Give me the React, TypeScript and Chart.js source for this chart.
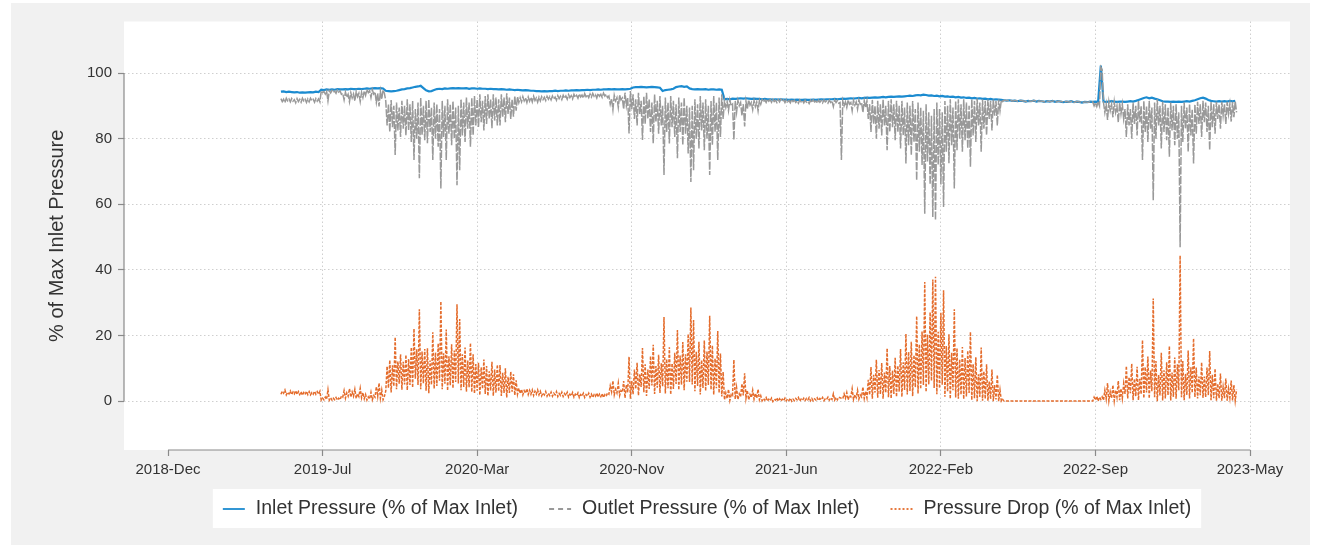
import React, { useEffect, useRef } from 'react';
import { Chart, registerables } from 'chart.js';

Chart.register(...registerables);

// Axis labels: evenly spaced every 230 days, counted from 2018-12-01
const X_LABELS = ['2018-Dec', '2019-Jul', '2020-Mar', '2020-Nov', '2021-Jun', '2022-Feb', '2022-Sep', '2023-May'];
const X_TICK_STEP_DAYS = 230;
const Y_TICKS = [0, 20, 40, 60, 80, 100];

// Readings are grouped in 4-day windows starting 2019-05-18 (day 168)
const FIRST_DAY = 168;
const STEP_DAYS = 4;

// Inlet pressure per window, % of max inlet (null = no reading)
const INLET: (number | null)[] = [
  94.3, 94.4, 94.2, 94.3, 94.2, 94.1, 94.2, 94.0, 94.1, 94.0,
  94.1, 94.2, 94.1, 94.3, 94.2, 94.9, 94.8, 95.0, 94.9, 95.0,
  94.9, 95.1, 95.0, 95.0, 95.1, 95.0, 95.2, 95.1, 95.1, 95.2,
  95.1, 95.2, 95.3, 95.2, 95.3, 95.4, 95.3, 95.4, 95.3, 94.6,
  94.5, 94.4, 94.5, 94.6, 94.8, 95.0, 95.1, 95.3, 95.4, 95.6,
  95.8, 95.9, 96.1, 95.4, 94.7, 94.4, 94.5, 94.8, 95.1, 95.2,
  95.1, 95.3, 95.2, 95.3, 95.4, 95.3, 95.4, 95.3, 95.3, 95.4,
  95.2, 95.3, 95.3, 95.2, 95.3, 95.2, 95.2, 95.1, 95.2, 95.1,
  95.1, 95.0, 95.1, 95.0, 94.9, 95.0, 94.9, 94.8, 94.9, 94.8,
  94.7, 94.8, 94.7, 94.6, 94.6, 94.5, 94.5, 94.4, 94.5, 94.4,
  94.5, 94.5, 94.6, 94.5, 94.6, 94.6, 94.7, 94.6, 94.7, 94.7,
  94.8, 94.7, 94.8, 94.8, 94.9, 94.8, 94.9, 94.9, 95.0, 94.9,
  95.0, 95.0, 95.1, 95.0, 95.1, 95.0, 95.0, 95.1, 95.0, 95.1,
  95.2, 95.6, 95.7, 95.7, 95.8, 95.7, 95.6, 95.7, 95.8, 95.7,
  95.6, 95.5, 94.5, 94.8, 94.9, 95.0, 95.2, 95.7, 95.9, 96.0,
  95.8, 95.9, 95.3, 95.1, 95.0, 95.1, 95.0, 95.0, 95.1, 94.9,
  95.0, 95.0, 94.9, 95.0, 94.9, 92.0, 92.1, 92.0, 92.2, 92.1,
  92.2, 92.3, 92.2, 92.3, 92.2, 92.1, 92.2, 92.1, 92.1, 92.0,
  92.1, 92.0, 92.0, 91.9, 92.0, 91.9, 92.0, 91.9, 91.9, 91.8,
  91.9, 91.8, 91.9, 91.8, 91.8, 91.9, 91.8, 91.8, 91.9, 91.8,
  91.9, 92.0, 91.9, 92.0, 92.0, 92.0, 92.1, 92.0, null, 92.2,
  92.1, 92.2, 92.3, 92.2, 92.3, 92.4, 92.3, 92.4, 92.5, 92.4,
  92.5, 92.6, 92.5, 92.6, 92.7, 92.6, 92.7, 92.8, 92.7, 92.8,
  92.9, 92.8, 92.9, 93.0, 93.1, 93.0, 93.2, 93.3, 93.2, 93.4,
  93.3, 93.1, 93.2, 93.0, 93.1, 92.9, 93.0, 92.8, 92.9, 92.7,
  92.8, 92.6, 92.7, 92.5, 92.6, 92.4, 92.5, 92.3, 92.4, 92.2,
  92.3, 92.1, 92.2, 92.0, 92.1, 91.9, 92.0, 91.9, 91.8, 91.7,
  91.6, 91.7, 91.5, 91.6, 91.4, 91.6, 91.5, 91.3, 91.5, 91.4,
  91.6, 91.3, 91.5, 91.4, 91.2, 91.4, 91.3, 91.5, 91.2, 91.4,
  91.3, 91.1, 91.3, 91.2, 91.4, 91.1, 91.3, 91.2, 91.0, 91.2,
  91.1, 91.3, 91.2, 91.3, 91.2, 102.3, 91.3, 91.2, 91.3, 91.4,
  91.3, 91.2, 91.3, 91.3, 91.2, 91.3, 91.4, 91.3, 91.5, 91.8,
  92.1, 92.4, 92.6, 92.3, 92.5, 92.2, 92.0, 91.7, 91.4, 91.3,
  91.3, 91.2, 91.3, 91.2, 91.3, 91.2, 91.3, 91.4, 91.3, 91.5,
  91.7, 92.0, 92.3, 92.5, 92.2, 91.8, 91.5, 91.4, 91.3, 91.4,
  91.3, 91.4, 91.3, 91.5, 91.4, 91.5,
];

// Outlet pressure, upper reading within each window, % of max inlet
const OUTLET_HI = [
  92.2, 92.0, 92.3, 92.1, 92.2, 91.9, 92.2, 92.0, 92.3, 92.0,
  92.1, 92.3, 92.0, 92.2, 92.1, 94.6, 94.4, 94.5, 94.6, 94.7,
  94.5, 94.8, 94.6, 93.8, 94.2, 93.5, 94.0, 93.6, 94.3, 93.8,
  94.1, 94.5, 95.0, 94.6, 94.9, 94.2, 93.8, 94.5, 94.9, 91.5,
  90.5, 91.8, 90.0, 91.0, 89.5, 91.5, 90.0, 92.0, 90.5, 91.5,
  89.0, 91.0, 92.5, 90.0, 91.5, 92.0, 89.5, 91.0, 90.5, 89.0,
  91.5, 90.0, 92.0, 90.5, 91.5, 89.5, 90.0, 92.0, 91.0, 92.5,
  91.0, 92.5, 93.0, 92.0, 93.5, 91.5, 93.0, 93.5, 92.0, 93.5,
  92.5, 92.0, 93.5, 92.5, 93.8, 92.5, 92.0, 93.0, 92.8, 92.5,
  92.8, 92.4, 92.7, 92.5, 92.9, 92.4, 92.6, 92.8, 92.6, 92.9,
  92.8, 93.0, 92.7, 93.1, 92.9, 93.2, 93.0, 93.4, 93.1, 93.5,
  93.2, 93.6, 93.3, 93.7, 93.4, 93.6, 93.8, 93.4, 93.8, 93.5,
  93.9, 93.5, 93.0, 92.2, 93.2, 92.5, 93.3, 92.4, 94.0, 92.5,
  94.5, 93.5, 92.0, 94.0, 91.5, 93.0, 94.0, 92.0, 91.0, 93.5,
  91.5, 93.0, 90.0, 92.5, 91.0, 93.0, 91.5, 90.5, 92.5, 91.0,
  92.5, 90.0, 89.5, 90.0, 92.0, 90.5, 93.0, 91.0, 92.0, 90.0,
  91.5, 93.0, 91.0, 92.5, 93.5, 91.6, 91.3, 91.8, 90.5, 91.5,
  91.7, 91.0, 90.5, 91.4, 91.8, 91.0, 91.6, 91.2, 91.7, 91.9,
  91.8, 92.0, 91.9, 92.0, 91.7, 91.9, 92.0, 91.8, 91.8, 91.6,
  91.9, 91.7, 91.5, 91.8, 91.6, 91.7, 91.4, 91.7, 91.8, 91.5,
  91.7, 91.6, 91.8, 91.5, 91.7, 91.5, 91.8, 91.6, 91.0, 91.5,
  91.2, 91.8, 91.0, 91.7, 91.2, 91.8, 91.0, 91.6, 91.5, 90.5,
  91.8, 90.0, 91.5, 90.5, 92.0, 90.0, 91.5, 92.0, 90.5, 91.5,
  90.0, 91.5, 89.5, 91.0, 90.0, 91.5, 89.0, 91.0, 89.5, 88.5,
  90.5, 88.0, 87.0, 89.0, 91.0, 89.0, 88.0, 91.5, 90.0, 92.0,
  89.5, 91.5, 92.0, 90.5, 92.0, 91.0, 90.0, 92.0, 91.5, 92.2,
  91.0, 92.0, 91.5, 91.9, 91.5, 91.9, 91.5, 91.9, 91.8, 91.7,
  91.6, 91.7, 91.5, 91.6, 91.4, 91.6, 91.5, 91.3, 91.5, 91.4,
  91.6, 91.3, 91.5, 91.4, 91.2, 91.4, 91.3, 91.5, 91.2, 91.4,
  91.3, 91.1, 91.3, 91.2, 91.4, 91.1, 91.3, 91.2, 91.0, 91.2,
  91.1, 91.3, 91.2, 91.0, 91.2, 101.8, 91.0, 90.5, 91.2, 90.5,
  91.2, 90.0, 91.0, 90.5, 89.0, 90.5, 89.0, 91.0, 90.0, 91.5,
  90.0, 91.5, 90.0, 91.5, 89.5, 91.0, 92.0, 90.0, 91.2, 90.5,
  89.5, 91.0, 90.0, 90.5, 88.0, 90.0, 91.0, 89.5, 90.5, 89.0,
  90.5, 91.2, 90.5, 91.5, 91.0, 90.0, 91.2, 90.5, 91.2, 90.5,
  91.2, 90.5, 91.2, 90.5, 91.2, 91.4,
];

// Outlet pressure, lower reading within each window, % of max inlet
const OUTLET_LO = [
  91.3, 91.0, 91.5, 91.2, 91.4, 90.9, 91.3, 91.1, 91.5, 91.0,
  91.2, 91.6, 91.1, 91.4, 91.2, 94.0, 93.6, 91.5, 93.9, 94.1,
  93.8, 94.2, 93.5, 91.8, 92.6, 91.2, 92.4, 91.5, 92.8, 91.3,
  92.5, 93.2, 94.0, 92.5, 93.6, 91.0, 89.8, 92.0, 93.8, 84.0,
  82.0, 83.5, 75.0, 82.5, 80.5, 83.0, 81.0, 82.5, 79.0, 73.5,
  80.0, 67.9, 81.0, 79.5, 78.6, 82.0, 73.5, 80.0, 77.5, 64.8,
  80.5, 73.5, 81.5, 78.0, 80.0, 65.8, 70.4, 81.0, 79.0, 83.0,
  77.5, 81.0, 84.0, 83.5, 85.0, 82.5, 84.5, 86.0, 83.2, 85.5,
  84.0, 84.0, 86.5, 85.0, 87.5, 86.0, 86.7, 88.5, 91.0, 91.2,
  91.5, 91.0, 91.4, 91.2, 91.6, 91.1, 91.5, 91.9, 91.6, 92.0,
  91.8, 92.1, 91.7, 92.2, 91.9, 92.3, 92.0, 92.5, 92.1, 92.6,
  92.3, 92.7, 92.4, 92.8, 92.5, 92.7, 92.9, 92.4, 92.9, 92.6,
  93.0, 92.5, 90.5, 88.8, 91.5, 89.5, 91.8, 89.0, 90.0, 81.6,
  89.0, 86.0, 84.0, 87.5, 79.6, 84.5, 86.0, 82.0, 78.6, 85.0,
  81.5, 84.0, 68.9, 82.0, 78.5, 83.5, 80.5, 74.0, 82.0, 78.0,
  81.5, 75.5, 66.8, 70.4, 80.0, 77.0, 82.5, 76.5, 80.0, 68.9,
  78.0, 82.0, 73.5, 80.5, 86.0, 89.5, 88.5, 90.0, 79.6, 88.0,
  90.0, 87.0, 83.7, 89.0, 90.2, 88.8, 89.8, 88.5, 90.5, 91.2,
  91.0, 91.4, 91.1, 91.3, 91.0, 91.2, 91.4, 91.0, 91.2, 90.9,
  91.3, 91.0, 90.8, 91.2, 90.9, 91.1, 90.7, 91.0, 91.2, 90.8,
  91.1, 90.9, 91.2, 90.8, 91.0, 89.8, 91.0, 90.8, 73.5, 90.0,
  89.5, 90.5, 88.5, 90.2, 89.0, 90.5, 88.0, 89.5, 86.0, 82.0,
  84.5, 80.0, 83.0, 81.0, 84.0, 76.5, 82.0, 83.5, 79.5, 82.0,
  77.0, 81.0, 72.4, 78.0, 75.0, 79.0, 67.3, 76.0, 72.0, 57.1,
  73.0, 66.0, 56.1, 55.1, 72.0, 66.0, 59.2, 76.0, 72.5, 78.0,
  64.8, 76.5, 80.0, 76.0, 79.5, 77.0, 71.4, 81.0, 79.0, 84.0,
  76.0, 83.0, 81.0, 86.0, 82.5, 87.0, 84.0, 88.5, 91.3, 91.7,
  91.6, 91.7, 91.5, 91.6, 91.4, 91.6, 91.5, 91.3, 91.5, 91.4,
  91.6, 91.3, 91.5, 91.4, 91.2, 91.4, 91.3, 91.5, 91.2, 91.4,
  91.3, 91.1, 91.3, 91.2, 91.4, 91.1, 91.3, 91.2, 91.0, 91.2,
  91.1, 91.3, 90.0, 89.8, 90.0, 101.0, 88.0, 85.7, 88.5, 86.5,
  88.0, 85.0, 87.5, 86.0, 80.5, 84.0, 80.0, 84.5, 81.0, 85.0,
  73.5, 82.0, 79.0, 83.0, 61.2, 80.0, 84.0, 77.0, 82.0, 79.5,
  74.5, 82.5, 78.0, 80.0, 46.9, 79.0, 83.0, 76.0, 81.0, 72.4,
  81.5, 84.5, 80.5, 85.0, 82.0, 76.5, 83.5, 81.5, 86.0, 83.0,
  87.0, 84.5, 87.5, 85.2, 86.5, 88.0,
];

type Pt = { x: number; y: number };
const round1 = (v: number) => Math.round(v * 10) / 10;
const windowStart = (i: number) => FIRST_DAY + STEP_DAYS * i;
const MID = STEP_DAYS / 2;

const inletPoints: Pt[] = INLET.flatMap((v, i) => (v == null ? [] : [{ x: windowStart(i), y: v }]));

// Each window contributes its upper and its lower outlet reading
const outletPoints: Pt[] = OUTLET_HI.flatMap((hi, i) => [
  { x: windowStart(i), y: hi },
  { x: windowStart(i) + MID, y: OUTLET_LO[i] },
]);

// Pressure drop across the unit = inlet - outlet
const dropPoints: Pt[] = INLET.flatMap((v, i) =>
  v == null
    ? []
    : [
        { x: windowStart(i), y: round1(v - OUTLET_HI[i]) },
        { x: windowStart(i) + MID, y: round1(v - OUTLET_LO[i]) },
      ]
);

const FONT = '"Liberation Sans", Arial, Helvetica, sans-serif';
const TEXT_COLOR = '#333333';
const AXIS_COLOR = '#8a8a8a';
const GRID_COLOR = '#cfcfcf';
const PANEL_BG = '#f1f1f1';
const BLUE = '#1b8bd0';
const GREY = '#999999';
const ORANGE = '#e46c2c';

// Page, outer panel and white plot region
const backdrop = {
  id: 'backdrop',
  beforeDraw(chart: any) {
    const { ctx, chartArea: a, width, height } = chart;
    ctx.save();
    ctx.fillStyle = '#ffffff';
    ctx.fillRect(0, 0, width, height);
    ctx.fillStyle = PANEL_BG;
    ctx.fillRect(11, 3, 1299, 542);
    ctx.fillStyle = '#ffffff';
    ctx.fillRect(a.left, a.top, a.right - a.left, a.bottom - a.top);
    ctx.restore();
  },
};

// Axis lines that span only the labelled range
const axisLines = {
  id: 'axisLines',
  beforeDatasetsDraw(chart: any) {
    const { ctx, chartArea: a } = chart;
    const { x, y } = chart.scales;
    ctx.save();
    ctx.strokeStyle = AXIS_COLOR;
    ctx.lineWidth = 1.2;
    ctx.beginPath();
    ctx.moveTo(a.left, y.getPixelForValue(Y_TICKS[Y_TICKS.length - 1]));
    ctx.lineTo(a.left, y.getPixelForValue(Y_TICKS[0]));
    ctx.moveTo(x.getPixelForValue(0), a.bottom);
    ctx.lineTo(x.getPixelForValue((X_LABELS.length - 1) * X_TICK_STEP_DAYS), a.bottom);
    ctx.stroke();
    ctx.restore();
  },
};

// Boxed legend below the axis
const legendBox = {
  id: 'legendBox',
  afterDraw(chart: any) {
    const { ctx, chartArea: a } = chart;
    const sample = 22;
    const gapText = 11;
    const gapItem = 31;
    const cy = 509;
    ctx.save();
    ctx.font = `19.5px ${FONT}`;
    ctx.textBaseline = 'middle';
    const ds = chart.data.datasets;
    const widths = ds.map((d: any) => ctx.measureText(d.label).width);
    const total = widths.reduce((s: number, w: number) => s + sample + gapText + w, 0) + gapItem * (ds.length - 1);
    const cx = (a.left + a.right) / 2;
    let xPos = cx - total / 2;
    ctx.fillStyle = '#ffffff';
    ctx.fillRect(xPos - 10, 489, total + 20, 39);
    ds.forEach((d: any, k: number) => {
      ctx.strokeStyle = d.borderColor;
      ctx.lineWidth = 1.8;
      ctx.setLineDash(d.legendDash || []);
      ctx.beginPath();
      ctx.moveTo(xPos, cy);
      ctx.lineTo(xPos + sample, cy);
      ctx.stroke();
      ctx.setLineDash([]);
      ctx.fillStyle = TEXT_COLOR;
      ctx.fillText(d.label, xPos + sample + gapText, cy);
      xPos += sample + gapText + widths[k] + gapItem;
    });
    ctx.restore();
  },
};

export default function App() {
  const canvasRef = useRef<HTMLCanvasElement | null>(null);

  useEffect(() => {
    const canvas = canvasRef.current;
    if (!canvas) return;
    const chart = new Chart(canvas, {
      type: 'line',
      data: {
        datasets: [
          {
            label: 'Inlet Pressure (% of Max Inlet)',
            data: inletPoints,
            borderColor: BLUE,
            borderWidth: 2.2,
            pointRadius: 0,
            spanGaps: true,
            order: 2,
            legendDash: [],
          },
          {
            label: 'Outlet Pressure (% of Max Inlet)',
            data: outletPoints,
            borderColor: GREY,
            borderWidth: 1.5,
            borderDash: [8, 1.5],
            pointRadius: 0,
            order: 1,
            legendDash: [5, 4],
          },
          {
            label: 'Pressure Drop (% of Max Inlet)',
            data: dropPoints,
            borderColor: ORANGE,
            borderWidth: 1.5,
            borderDash: [3, 1.5],
            pointRadius: 0,
            spanGaps: true,
            order: 3,
            legendDash: [2, 2],
          },
        ],
      },
      options: {
        responsive: false,
        animation: false,
        devicePixelRatio: 1,
        layout: { padding: { top: 21.5, right: 27, bottom: 57, left: 0 } },
        plugins: {
          legend: { display: false },
          tooltip: { enabled: false },
        },
        elements: { line: { tension: 0 } },
        scales: {
          x: {
            type: 'linear',
            min: -65.5,
            max: 1669.5,
            afterBuildTicks: (s: any) => {
              s.ticks = X_LABELS.map((_, i) => ({ value: i * X_TICK_STEP_DAYS }));
            },
            afterFit: (s: any) => {
              s.height = 40;
            },
            ticks: {
              autoSkip: false,
              maxRotation: 0,
              minRotation: 0,
              padding: 5,
              color: TEXT_COLOR,
              font: { family: FONT, size: 15 },
              callback: (_v: any, i: number) => X_LABELS[i],
            },
            grid: {
              color: (c: any) => (c.index === 0 ? 'rgba(0,0,0,0)' : GRID_COLOR),
              lineWidth: 1,
              tickLength: 6,
              tickColor: AXIS_COLOR,
              tickWidth: 1.2,
            },
            border: { display: false, dash: [1.5, 2.5] },
          },
          y: {
            type: 'linear',
            min: -14.9,
            max: 115.7,
            afterBuildTicks: (s: any) => {
              s.ticks = Y_TICKS.map((v) => ({ value: v }));
            },
            afterFit: (s: any) => {
              s.width = 124;
            },
            ticks: {
              padding: 6,
              color: TEXT_COLOR,
              font: { family: FONT, size: 15 },
            },
            grid: {
              color: GRID_COLOR,
              lineWidth: 1,
              tickLength: 6,
              tickColor: AXIS_COLOR,
              tickWidth: 1.2,
            },
            border: { display: false, dash: [1.5, 2.5] },
            title: {
              display: true,
              text: '% of Max Inlet Pressure',
              color: TEXT_COLOR,
              font: { family: FONT, size: 20 },
              padding: { top: 45, bottom: 0 },
            },
          },
        },
      },
      plugins: [backdrop, axisLines, legendBox],
    } as any);
    return () => chart.destroy();
  }, []);

  return (
    <div style={{ position: 'absolute', left: 0, top: 0, width: 1317, height: 547 }}>
      <canvas ref={canvasRef} width={1317} height={547} style={{ display: 'block' }} />
    </div>
  );
}
